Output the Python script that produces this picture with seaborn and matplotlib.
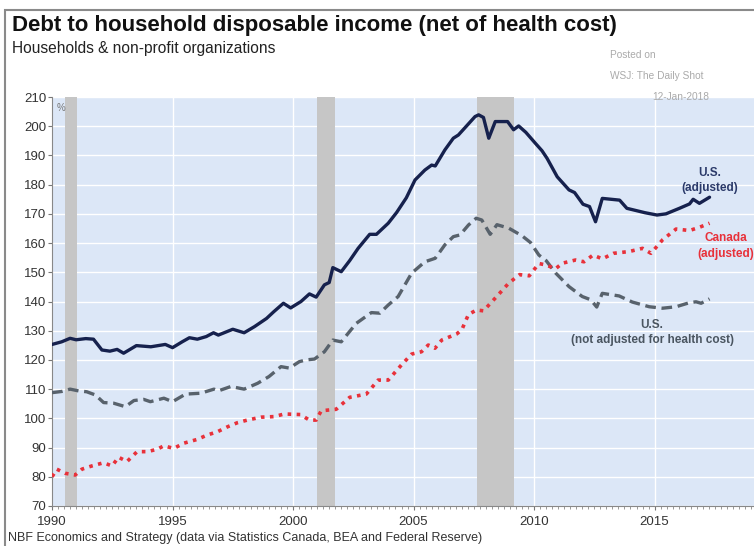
import matplotlib
matplotlib.use("Agg")
import matplotlib.pyplot as plt
from matplotlib.patches import Rectangle
from matplotlib.ticker import MultipleLocator
import seaborn as sns
import pandas as pd

# ---------------- data ----------------
us_adj_year = [1990.0, 1990.4, 1990.75, 1991.0, 1991.4, 1991.72, 1992.07, 1992.4, 1992.7, 1992.97,
               1993.5, 1994.1, 1994.7, 1995.0, 1995.4, 1995.7, 1996.03, 1996.4, 1996.7, 1996.9,
               1997.5, 1997.97, 1998.4, 1998.9, 1999.2, 1999.6, 1999.9, 2000.33, 2000.68, 2000.96,
               2001.3, 2001.5, 2001.65, 2002.0, 2002.35, 2002.7, 2003.18, 2003.46, 2003.95, 2004.3,
               2004.7, 2005.06, 2005.47, 2005.75, 2005.9, 2006.3, 2006.65, 2006.86, 2007.2, 2007.55,
               2007.7, 2007.9, 2008.12, 2008.39, 2008.9, 2009.15, 2009.36, 2009.66, 2010.05, 2010.33,
               2010.54, 2010.96, 2011.45, 2011.68, 2012.03, 2012.3, 2012.55, 2012.83, 2013.55, 2013.85,
               2014.2, 2014.6, 2015.1, 2015.47, 2016.03, 2016.45, 2016.6, 2016.86, 2017.28]
us_adj_val = [125.3, 126.2, 127.4, 126.9, 127.3, 127.1, 123.4, 123.0, 123.6, 122.3,
              124.9, 124.5, 125.3, 124.2, 126.2, 127.6, 127.1, 128.0, 129.3, 128.5,
              130.5, 129.3, 131.4, 134.2, 136.5, 139.4, 137.8, 140.0, 142.6, 141.5,
              145.7, 146.5, 151.6, 150.2, 154.0, 158.2, 163.0, 163.0, 166.8, 170.5,
              175.5, 181.6, 185.0, 186.7, 186.4, 191.9, 195.9, 197.0, 200.1, 203.3,
              203.9, 203.0, 195.9, 201.6, 201.6, 198.8, 200.1, 197.9, 194.2, 191.6,
              189.0, 182.7, 178.2, 177.3, 173.3, 172.5, 167.3, 175.3, 174.7, 171.9,
              171.2, 170.4, 169.6, 170.0, 171.9, 173.4, 175.0, 173.6, 175.7]

us_nadj_year = [1990.0, 1990.4, 1990.75, 1991.1, 1991.44, 1991.8, 1992.14, 1992.55, 1993.04, 1993.4,
                1993.8, 1994.08, 1994.64, 1995.0, 1995.54, 1996.17, 1996.72, 1996.9, 1997.42, 1997.97,
                1998.53, 1999.0, 1999.5, 1999.85, 2000.26, 2000.54, 2000.89, 2001.3, 2001.65, 2002.0,
                2002.62, 2003.25, 2003.6, 2003.95, 2004.36, 2004.92, 2005.47, 2005.9, 2006.3, 2006.65,
                2006.93, 2007.28, 2007.6, 2007.83, 2008.18, 2008.46, 2008.95, 2009.5, 2009.85, 2010.2,
                2010.5, 2010.9, 2011.45, 2012.0, 2012.35, 2012.6, 2012.83, 2013.53, 2014.08, 2014.78,
                2015.33, 2015.89, 2016.45, 2016.72, 2016.93, 2017.28]
us_nadj_val = [108.8, 109.2, 110.0, 109.4, 109.1, 108.0, 105.4, 105.2, 104.0, 106.1,
               106.5, 105.7, 106.9, 105.7, 108.3, 108.6, 110.0, 109.4, 110.9, 110.0,
               112.0, 114.3, 117.7, 117.2, 119.4, 120.0, 120.3, 122.8, 126.8, 126.2,
               132.5, 136.2, 136.0, 138.8, 141.7, 149.7, 153.6, 154.8, 159.4, 162.2,
               162.8, 166.2, 168.5, 167.9, 163.0, 166.3, 165.1, 162.5, 160.2, 155.9,
               154.0, 149.7, 145.1, 141.7, 140.6, 138.1, 142.8, 141.9, 139.8, 138.2,
               137.7, 138.2, 139.6, 139.9, 139.4, 140.9]

ca_year = [1990.0, 1990.2, 1990.54, 1990.96, 1991.24, 1991.65, 1992.14, 1992.49, 1992.76, 1993.11,
           1993.53, 1993.95, 1994.36, 1994.64, 1995.05, 1995.47, 1996.03, 1996.44, 1996.86, 1997.28,
           1997.69, 1998.1, 1998.67, 1999.22, 1999.64, 2000.3, 2000.68, 2000.96, 2001.17, 2001.79,
           2002.35, 2003.04, 2003.53, 2003.95, 2004.5, 2004.92, 2005.33, 2005.61, 2005.89, 2006.17,
           2006.79, 2007.0, 2007.28, 2007.62, 2007.9, 2008.45, 2008.95, 2009.4, 2009.8, 2010.2,
           2010.5, 2010.89, 2011.17, 2011.72, 2012.07, 2012.45, 2012.83, 2013.3, 2013.94, 2014.5,
           2014.85, 2015.33, 2015.89, 2016.45, 2016.86, 2017.28]
ca_val = [80.0, 82.6, 81.2, 80.6, 82.6, 83.7, 84.8, 83.7, 86.7, 85.2,
          88.6, 88.6, 89.4, 90.6, 89.7, 91.5, 92.8, 94.3, 95.4, 97.1,
          98.5, 99.4, 100.4, 100.6, 101.5, 101.3, 99.4, 99.4, 102.6, 103.1,
          107.2, 108.3, 113.1, 113.1, 118.3, 122.0, 122.8, 125.1, 124.0, 126.8,
          128.9, 130.3, 135.6, 137.1, 136.8, 141.7, 146.3, 149.2, 148.8, 153.0,
          152.5, 151.2, 153.1, 154.2, 153.6, 155.9, 154.6, 156.5, 157.1, 158.2,
          156.5, 161.1, 164.8, 164.3, 165.4, 166.8]

recession_start = [1990.55, 2001.0, 2007.63]
recession_end = [1991.05, 2001.75, 2009.15]

y_ticks = [70, 80, 90, 100, 110, 120, 130, 140, 150, 160, 170, 180, 190, 200, 210]
x_ticks = [1990, 1995, 2000, 2005, 2010, 2015]

title = "Debt to household disposable income (net of health cost)"
subtitle = "Households & non-profit organizations"
source = "NBF Economics and Strategy (data via Statistics Canada, BEA and Federal Reserve)"

# ---------------- figure ----------------
sns.set_theme(style="white")
plt.rcParams['font.family'] = ['Liberation Sans', 'DejaVu Sans']

fig = plt.figure(figsize=(7.54, 5.46), dpi=100)
ax = fig.add_axes([0.069, 0.0733, 0.935, 0.749])
ax.set_facecolor("#dce7f7")

for s, e in zip(recession_start, recession_end):
    ax.axvspan(s, e, color="#c6c6c6", zorder=1, lw=0)

for yv in y_ticks:
    ax.axhline(yv, color="white", lw=1.0, zorder=0.5)
for xv in x_ticks[1:]:
    ax.axvline(xv, color="white", lw=1.0, zorder=0.5)

df_us = pd.DataFrame({"year": us_adj_year, "val": us_adj_val})
df_nadj = pd.DataFrame({"year": us_nadj_year, "val": us_nadj_val})
df_ca = pd.DataFrame({"year": ca_year, "val": ca_val})

sns.lineplot(data=df_nadj, x="year", y="val", ax=ax, color="#58626c", lw=2.4,
             zorder=3, estimator=None, sort=False)
ax.lines[-1].set_dashes((3.2, 1.7))
sns.lineplot(data=df_ca, x="year", y="val", ax=ax, color="#e8313a", lw=2.6,
             zorder=4, estimator=None, sort=False)
ax.lines[-1].set_dashes((1.0, 1.5))
sns.lineplot(data=df_us, x="year", y="val", ax=ax, color="#16214d", lw=2.4,
             zorder=5, estimator=None, sort=False)

ax.set_xlim(1990, 2019.25)
ax.set_ylim(70, 210)
ax.set_xlabel("")
ax.set_ylabel("")
ax.set_yticks(y_ticks)
ax.set_xticks(x_ticks)
ax.xaxis.set_minor_locator(MultipleLocator(0.25))
ax.tick_params(axis="y", which="major", direction="out", length=3, width=0.8,
               color="#777777", labelsize=9.5, labelcolor="#333333", pad=1, left=True)
ax.tick_params(axis="x", which="major", direction="out", length=3, width=0.8,
               color="#777777", labelsize=9.5, labelcolor="#333333", pad=4, bottom=True)
ax.tick_params(axis="x", which="minor", direction="out", length=2, width=0.6,
               color="#888888", bottom=True)
for side in ["top", "right"]:
    ax.spines[side].set_visible(False)
for side in ["left", "bottom"]:
    ax.spines[side].set_color("#888888")
    ax.spines[side].set_linewidth(0.8)

ax.text(0.006, 0.985, "%", transform=ax.transAxes, fontsize=7, color="#777777",
        va="top", ha="left")

# annotations
ax.text(2017.3, 181.5, "U.S.\n(adjusted)", color="#2b3a6a", fontsize=8.5,
        ha="center", va="center", linespacing=1.35, fontweight="bold", zorder=6)
ax.text(2017.95, 159.0, "Canada\n(adjusted)", color="#e8313a", fontsize=8.5,
        ha="center", va="center", linespacing=1.35, fontweight="bold", zorder=6)
ax.text(2014.9, 129.5, "U.S.\n(not adjusted for health cost)", color="#4a5560",
        fontsize=8.5, ha="center", va="center", linespacing=1.35, fontweight="bold", zorder=6)

# titles and notes
fig.text(0.016, 0.953, title, fontsize=16, fontweight="bold", color="#111111",
         ha="left", va="center")
fig.text(0.016, 0.912, subtitle, fontsize=11.2, color="#222222", ha="left", va="center")
fig.text(0.809, 0.900, "Posted on", fontsize=7.3, color="#aaaaaa", ha="left", va="center")
fig.text(0.809, 0.861, "WSJ: The Daily Shot", fontsize=7.3, color="#aaaaaa", ha="left", va="center")
fig.text(0.865, 0.822, "12-Jan-2018", fontsize=7.3, color="#aaaaaa", ha="left", va="center")
fig.text(0.011, 0.015, source, fontsize=9, color="#333333", ha="left", va="center")

# figure frame
fig.add_artist(Rectangle((0.007, -0.05), 1.2, 1.032, transform=fig.transFigure,
                         fill=False, edgecolor="#8a8a8a", lw=1.5))

fig.savefig("out.png", dpi=100)
